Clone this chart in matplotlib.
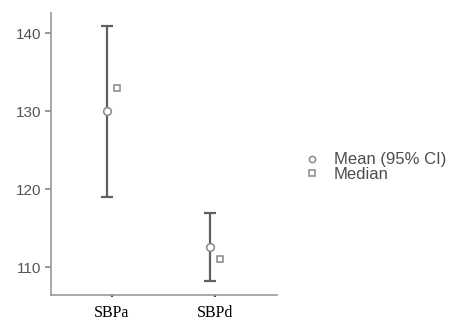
### summary plot: mean (95% CI) and median of SBPa / SBPd
import numpy as np
import matplotlib
matplotlib.use("Agg")
import matplotlib.pyplot as plt
from matplotlib.lines import Line2D

categories = ["SBPa", "SBPd"]
mean_vals = [130.0, 112.6]
ci_low = [119.0, 108.2]
ci_high = [141.0, 116.9]
median_vals = [133.0, 111.0]

xpos = np.arange(1, len(categories) + 1)
dodge = 0.05
grey = "#606060"

fig = plt.figure(figsize=(4.57, 3.2), dpi=100)
ax = fig.add_axes([0.112, 0.078, 0.494, 0.881])

### error bars + mean
yerr = [np.array(mean_vals) - np.array(ci_low), np.array(ci_high) - np.array(mean_vals)]
ax.errorbar(xpos - dodge, mean_vals, yerr=yerr, fmt='none', ecolor=grey,
            elinewidth=1.6, capsize=4, capthick=1.6, zorder=2)
ax.plot(xpos - dodge, mean_vals, 'o', ms=5.5, mfc='white', mec='#888888', mew=1.1, ls='none', zorder=3)
### median
ax.plot(xpos + dodge, median_vals, 's', ms=5, mfc='white', mec='#888888', mew=1.1, ls='none', zorder=3)

ax.set_xlim(0.41, 2.6)
ax.set_ylim(106.4, 142.6)
ax.set_yticks([110, 120, 130, 140])
ax.set_xticks(xpos)
ax.set_xticklabels(categories, fontfamily='Liberation Serif', fontsize=11.5, color='black')
ax.tick_params(axis='y', labelsize=11, labelcolor='#555555', color='#888888', length=4, width=1.2, pad=3)
ax.tick_params(axis='x', color='#444444', length=1.5, width=1.5, pad=6)
for lab in ax.get_yticklabels():
    lab.set_fontfamily('Liberation Sans')

for s in ['top', 'right']:
    ax.spines[s].set_visible(False)
for s in ['left', 'bottom']:
    ax.spines[s].set_color('#999999')
    ax.spines[s].set_linewidth(1.2)

handles = [Line2D([], [], marker='o', ls='none', ms=4.5, mfc='white', mec='#888888', mew=1.1),
           Line2D([], [], marker='s', ls='none', ms=4.5, mfc='white', mec='#888888', mew=1.1)]
leg = fig.legend(handles, ["Mean (95% CI)", "Median"], loc='center left',
                 bbox_to_anchor=(0.672, 0.478), frameon=False, handlelength=0.6,
                 handletextpad=1.0, labelspacing=-0.05, borderpad=0, borderaxespad=0,
                 prop={'family': 'Liberation Sans', 'size': 12})
for t in leg.get_texts():
    t.set_color('#4d4d4d')

plt.savefig("out.png", dpi=100)
plt.close()
